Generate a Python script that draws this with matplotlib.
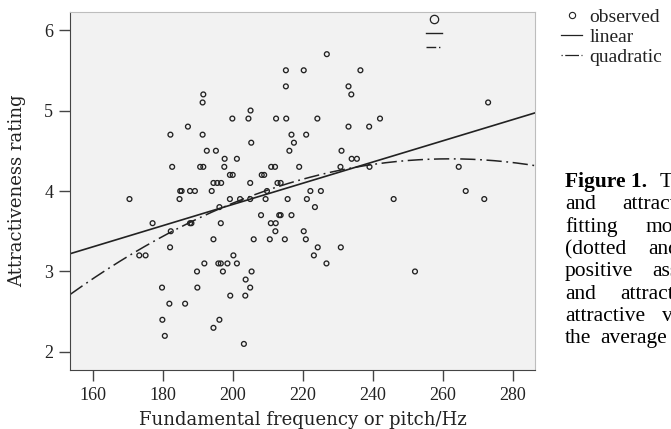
import numpy as np
import matplotlib
matplotlib.use('Agg')
import matplotlib.pyplot as plt
from matplotlib.lines import Line2D

plt.rcParams['font.family'] = 'Liberation Serif'

# observed points: pitch (Hz) and attractiveness rating
pitch = [226.8,
         215.1, 220.2, 236.4,
         215.1, 233.0,
         191.5, 233.8,
         191.3, 272.9,
         205.0,
         199.8, 204.4, 212.3, 215.2, 224.1, 242.0,
         187.1, 233.0, 238.9,
         182.1, 191.3, 216.7, 220.9,
         205.2, 217.4,
         192.5, 195.1, 216.1, 231.0,
         197.6, 201.1, 233.9, 235.4,
         182.6, 190.6, 191.5, 197.5, 210.9, 212.0, 218.9, 230.7, 239.0, 264.5,
         199.1, 199.9, 208.2, 208.9,
         194.4, 195.5, 196.6, 204.9, 212.7, 213.6,
         184.9, 185.3, 187.7, 189.1, 193.9, 209.7, 222.1, 225.1, 266.5,
         170.4, 184.7, 199.1, 202.0, 204.9, 209.3, 215.6, 221.1, 245.9, 271.8,
         196.1, 223.4,
         208.0, 213.2, 213.6, 216.7,
         177.0, 187.7, 188.1, 196.5, 210.8, 212.2,
         182.2, 212.1, 220.2,
         194.4, 205.9, 210.5, 214.8, 220.8,
         182.0, 224.2, 230.8,
         173.2, 175.0, 200.1, 223.1,
         191.8, 195.8, 196.5, 198.4, 201.1, 226.7,
         189.7, 197.1, 205.3, 252.0,
         203.6,
         179.7, 189.8, 204.9,
         199.2, 203.5,
         181.8, 186.3,
         179.8, 196.1,
         194.4,
         180.5,
         203.1]
rating = [5.7,
          5.5, 5.5, 5.5,
          5.3, 5.3,
          5.2, 5.2,
          5.1, 5.1,
          5.0,
          4.9, 4.9, 4.9, 4.9, 4.9, 4.9,
          4.8, 4.8, 4.8,
          4.7, 4.7, 4.7, 4.7,
          4.6, 4.6,
          4.5, 4.5, 4.5, 4.5,
          4.4, 4.4, 4.4, 4.4,
          4.3, 4.3, 4.3, 4.3, 4.3, 4.3, 4.3, 4.3, 4.3, 4.3,
          4.2, 4.2, 4.2, 4.2,
          4.1, 4.1, 4.1, 4.1, 4.1, 4.1,
          4.0, 4.0, 4.0, 4.0, 4.0, 4.0, 4.0, 4.0, 4.0,
          3.9, 3.9, 3.9, 3.9, 3.9, 3.9, 3.9, 3.9, 3.9, 3.9,
          3.8, 3.8,
          3.7, 3.7, 3.7, 3.7,
          3.6, 3.6, 3.6, 3.6, 3.6, 3.6,
          3.5, 3.5, 3.5,
          3.4, 3.4, 3.4, 3.4, 3.4,
          3.3, 3.3, 3.3,
          3.2, 3.2, 3.2, 3.2,
          3.1, 3.1, 3.1, 3.1, 3.1, 3.1,
          3.0, 3.0, 3.0, 3.0,
          2.9,
          2.8, 2.8, 2.8,
          2.7, 2.7,
          2.6, 2.6,
          2.4, 2.4,
          2.3,
          2.2,
          2.1]

# fitted models (coefficients), lowest order first
linear_coef = [1.20, 0.01317]
quad_coef = [-5.416, 0.07493, -1.43e-4]

x_ticks = [160, 180, 200, 220, 240, 260, 280]
y_ticks = [2, 3, 4, 5, 6]
x_range = (153.4, 286.3)
y_range = (1.776, 6.224)

legend_labels = ['observed', 'linear', 'quadratic']
caption = [('Figure 1.', 'The'), ('and', 'attractiveness'), ('fitting', 'models'),
           ('(dotted', 'and'), ('positive', 'association'), ('and', 'attractiveness'),
           ('attractive', 'voices'), ('the', 'average')]
caption_word2_x = [660, 622, 645, 648, 652, 620, 662, 600]

W, H = 671, 429
ink = '#222222'

fig = plt.figure(figsize=(W / 100, H / 100), dpi=100)
ax = fig.add_axes([70 / W, 1 - 370 / H, 465 / W, 358 / H])
ax.set_facecolor('#f2f2f2')

ax.scatter(pitch, rating, s=12, facecolors='none', edgecolors=ink, linewidths=0.95, zorder=3)

xs = np.linspace(x_range[0], x_range[1], 300)
ax.plot(xs, np.polynomial.polynomial.polyval(xs, linear_coef), color=ink, lw=1.2)
ax.plot(xs, np.polynomial.polynomial.polyval(xs, quad_coef), color=ink, lw=1.1,
        dashes=(10, 3, 1.2, 3))

ax.set_xlim(*x_range)
ax.set_ylim(*y_range)
ax.set_xticks(x_ticks)
ax.set_yticks(y_ticks)
ax.tick_params(direction='out', length=8, width=1, color='#444444', labelsize=13,
               labelcolor=ink, pad=4)
for side in ['left', 'bottom']:
    ax.spines[side].set_color('#444444')
for side in ['top', 'right']:
    ax.spines[side].set_color('#bdbdbd')

ax.set_xlabel('Fundamental frequency or pitch/Hz', family='DejaVu Serif', fontsize=13,
              color=ink, labelpad=5)
ax.set_ylabel('Attractiveness rating', family='DejaVu Serif', fontsize=13,
              color=ink, labelpad=13)

# SPSS key inside the plot (symbols only)
key = [Line2D([], [], marker='o', ls='none', mfc='none', mec=ink, ms=6, mew=0.9),
       Line2D([], [], color=ink, lw=1.0),
       Line2D([], [], color=ink, lw=1.0, dashes=(7, 2, 1, 2))]
ax.legend(key, ['', '', ''], loc='upper left', bbox_to_anchor=(0.765, 0.99),
          frameon=False, fontsize=8, handlelength=1.5, handletextpad=0,
          labelspacing=0.35, borderpad=0, borderaxespad=0)

# key outside the plot
key2 = [Line2D([], [], marker='o', ls='none', mfc='none', mec=ink, ms=4.5, mew=0.8),
        Line2D([], [], color=ink, lw=0.9),
        Line2D([], [], color=ink, lw=0.9, dashes=(1, 2, 11, 2))]
fig.legend(key2, legend_labels, loc='upper left', bbox_to_anchor=(561 / W, 1 - 8 / H),
           frameon=False, prop={'family': 'Liberation Serif', 'size': 14},
           handlelength=1.1, handletextpad=0.35, labelspacing=0.12, borderpad=0,
           borderaxespad=0, labelcolor=ink)

# caption text beside the figure (cut off by the page edge)
for i, (first, rest) in enumerate(caption):
    base = 187 + 22.35 * i
    weight = 'bold' if i == 0 else 'normal'
    fig.text(565 / W, 1 - base / H, first, fontsize=15.5, fontweight=weight,
             color='black', va='baseline')
    fig.text(caption_word2_x[i] / W, 1 - base / H, rest, fontsize=15.5,
             color='black', va='baseline')

fig.savefig('out.png', dpi=100)
